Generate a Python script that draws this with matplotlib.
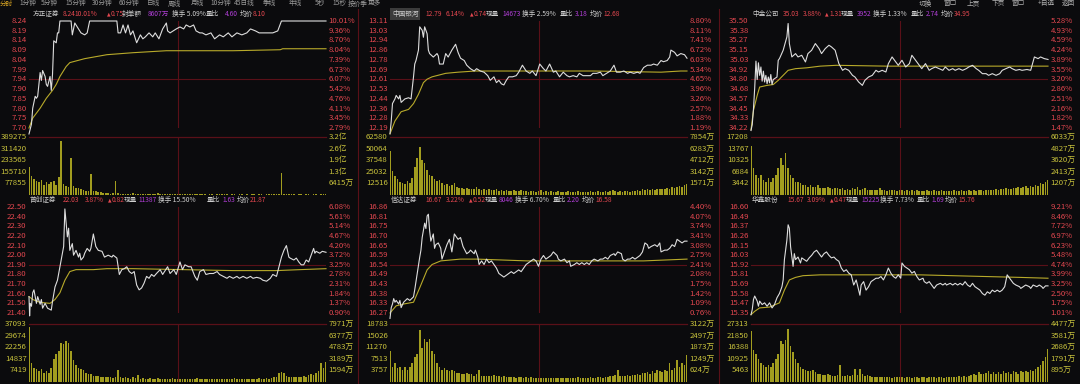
import numpy as np
import matplotlib
matplotlib.use('Agg')
import matplotlib.pyplot as plt
from matplotlib.lines import Line2D
from matplotlib.transforms import blended_transform_factory as blend

plt.rcParams['font.family'] = ['Noto Sans CJK SC', 'DejaVu Sans']

# ---------------- data ----------------
# 方正证券
fz_t = [0,2,3,5,6,7,9,10,11,13,14,15,17,18,19,20,22,23,24,25,34,35,37,40,42,45,47,49,71,72,
        74,76,78,80,82,84,87,90,92,94,97,100,102,105,108,111,112,114,119,122,125,127,130,133,135,
        138,140,143,147,150,154,157,161,164,168,172,176,179,183,186,189,193,197,201,204,240]
fz_p = [7.67,7.72,7.80,7.86,7.85,7.86,7.98,7.94,7.99,7.96,7.92,7.91,7.96,7.89,7.97,8.14,8.13,8.18,8.18,8.24,
        8.24,8.17,8.23,8.20,8.18,8.17,8.18,8.24,8.24,8.18,8.18,8.22,8.18,8.22,8.17,8.19,8.13,8.17,8.15,8.16,
        8.18,8.16,8.18,8.15,8.20,8.23,8.19,8.18,8.20,8.21,8.20,8.22,8.21,8.22,8.19,8.18,8.18,8.17,8.18,8.15,
        8.17,8.16,8.18,8.16,8.18,8.17,8.18,8.20,8.19,8.18,8.18,8.18,8.18,8.19,8.24,8.24]
fz_avg_t = [0,3,9,14,19,22,25,27,30,33,45,63,84,111,165,203,205,240]
fz_avg = [7.70,7.75,7.80,7.85,7.89,7.92,7.96,7.98,8.01,8.03,8.05,8.07,8.08,8.09,8.09,8.095,8.10,8.10]
fz_vol = [188,130,110,95,85,100,70,90,75,85, 95,70,120,360,75,60,55,245,60,50,
          45,40,35,30,30,142,28,25,20,18, 15,12,12,10,12,96,14,10,9,8,
          8,9,15,8,7,7,6,6,7,6, 5,6,12,5,5,6,5,4,5,5,
          4,10,4,5,4,4,5,4,4,5, 4,4,3,4,4,3,4,4,5,4,
          4,3,4,4,3,4,4,3,4,3, 4,4,3,4,4,3,4,4,5,4,
          5,8,147,10,6,5,4,4,3,4, 4,3,4,4,3,4,4,3,4,4, 5]
fz_yl = ['8.24','8.19','8.14','8.09','8.04','7.99','7.94','7.90','7.85','7.80','7.75','7.70']
fz_pct = ['10.01%','9.36%','8.70%','8.04%','7.39%','6.73%','6.07%','5.42%','4.76%','4.11%','3.45%','2.79%']
fz_vl = ['389275','311420','233565','155710','77855']
fz_vr = ['3.2亿','2.6亿','1.9亿','1.3亿','6415万']
fz_head = ['方正证券','8.24','10.01%','▲0.75','封单额','8607万','换手 5.09%','量比','4.60','均价','8.10']

# 中国银河
yh_t = [0,1,2,4,5,7,8,9,12,15,17,19,20,21,23,24,26,27,28,30,31,32,35,38,39,40,43,45,47,50,
        53,55,57,60,62,65,68,70,73,76,79,81,84,86,88,90,92,94,96,99,102,104,107,110,113,115,118,121,124,126,
        129,132,134,137,140,143,145,148,151,153,156,159,162,164,167,170,172,175,178,181,183,186,189,192,194,197,
        200,202,205,208,211,213,216,219,221,224,226,227,230,232,235,238,240]
yh_p = [12.14,12.25,12.40,12.44,12.47,12.44,12.47,12.41,12.44,12.45,12.44,12.63,12.74,12.77,12.86,13.06,13.03,12.97,13.06,13.00,
        12.86,12.83,12.80,12.83,12.81,12.74,12.74,12.83,12.80,12.86,12.91,12.84,12.79,12.77,12.73,12.70,12.68,12.70,12.68,12.67,
        12.64,12.60,12.63,12.58,12.60,12.57,12.56,12.60,12.63,12.63,12.64,12.67,12.73,12.68,12.66,12.68,12.64,12.74,12.70,12.68,
        12.74,12.67,12.68,12.63,12.67,12.64,12.63,12.64,12.63,12.66,12.64,12.64,12.64,12.66,12.66,12.67,12.64,12.66,12.68,12.73,
        12.67,12.67,12.68,12.66,12.67,12.66,12.67,12.66,12.71,12.73,12.73,12.74,12.73,12.77,12.76,12.77,12.80,12.86,12.84,12.81,
        12.83,12.82,12.79]
yh_avg_t = [0,4,9,15,19,23,27,30,34,45,55,69,110,164,219,235,240]
yh_avg = [12.14,12.25,12.33,12.35,12.40,12.48,12.58,12.61,12.63,12.66,12.67,12.68,12.68,12.68,12.67,12.68,12.68]
yh_vol = [48,26,20,17,14,13,12,15,13,18, 30,40,52,38,34,27,22,20,17,15,
          16,13,11,12,10,11,13,9,8,8, 7,8,6,7,6,9,6,5,6,5,
          6,5,5,6,4,5,4,5,4,4, 5,4,4,5,4,4,3,4,4,3,
          4,5,3,4,3,4,3,3,4,3, 3,3,4,3,3,3,4,3,3,3,
          3,4,3,3,4,3,3,4,3,4, 5,4,3,4,3,4,4,3,4,4,
          5,4,6,5,6,5,6,5,7,6, 7,6,8,7,9,8,9,10,9,11, 12]
yh_yl = ['13.11','13.03','12.94','12.86','12.78','12.69','12.61','12.53','12.44','12.36','12.28','12.19']
yh_pct = ['8.80%','8.11%','7.41%','6.72%','6.03%','5.34%','4.65%','3.96%','3.26%','2.57%','1.88%','1.19%']
yh_vl = ['62580','50064','37548','25032','12516']
yh_vr = ['7854万','6283万','4712万','3142万','1571万']
yh_head = ['中国银河','12.79','6.14%','▲0.74','现量','14673','换手 2.59%','量比','3.18','均价','12.68']

# 中金公司
zj_t = [0,1,2,3,4,5,6,7,8,9,10,11,12,13,14,15,16,17,18,21,22,23,26,29,30,31,33,36,38,
        41,44,46,49,52,55,57,60,63,65,68,71,74,76,79,82,84,87,90,92,95,98,101,103,106,109,111,114,117,119,
        122,125,128,130,133,136,138,141,144,146,149,152,155,157,160,163,165,168,171,174,176,179,182,184,187,190,
        192,195,198,201,203,206,209,211,214,217,219,223,226,229,232,234,237,240]
zj_p = [34.19,34.26,34.45,34.70,35.02,34.80,35.00,34.85,34.95,34.78,34.90,34.77,34.85,34.75,34.83,34.76,34.86,34.74,34.80,
        34.83,35.03,35.05,35.15,35.31,35.47,35.23,35.07,35.11,35.07,
        35.09,35.01,35.11,35.15,35.23,35.17,35.11,35.17,35.21,35.19,
        35.15,34.99,34.91,34.93,34.91,34.85,34.83,34.77,34.73,34.79,
        34.83,34.85,34.91,34.89,34.91,34.89,34.99,35.07,35.01,34.97,
        35.03,34.95,34.99,35.09,35.03,34.97,34.93,34.99,34.91,34.93,
        34.95,34.93,34.91,34.95,34.91,34.93,34.91,34.93,34.91,34.93,
        34.95,34.97,34.93,34.91,34.87,34.87,34.85,34.87,34.85,34.87,
        34.91,34.93,34.95,34.93,34.91,34.92,34.91,34.92,34.91,35.07,
        35.05,35.07,35.05,35.04]
zj_avg_t = [0,2,5,7,13,18,22,26,30,36,45,56,69,110,164,240]
zj_avg = [34.20,34.43,34.61,34.71,34.73,34.74,34.79,34.85,34.91,34.93,34.94,34.96,34.97,34.96,34.96,34.96]
zj_vol = [14.5,8,6,5,6,4.5,4,5,4,5, 6,8,11,9,12.5,8,6,5,4,4,
          3.5,3,3,2.5,3,2.5,2.5,3,2,2, 2,2.5,2,1.8,2,2.2,1.8,2,1.5,1.8,
          1.5,2,1.8,2.5,1.5,1.8,2,1.5,1.6,1.5, 1.4,1.6,2,1.4,1.5,1.3,1.6,1.4,1.5,1.3,
          1.5,1.4,1.3,1.5,1.2,1.4,1.3,1.5,1.2,1.3, 1.2,1.4,1.3,1.2,1.5,1.3,1.2,1.4,1.3,1.2,
          1.3,1.2,1.4,1.2,1.3,1.5,1.2,1.3,1.4,1.2, 1.5,1.3,1.4,1.6,1.3,1.5,1.4,1.6,1.5,1.7,
          1.6,1.8,1.7,2,1.8,1.9,2.2,2,2.4,2.1, 2.3,2.6,2.2,2.8,2.5,3,2.7,3.5,3.2,4, 4.5]
zj_yl = ['35.50','35.38','35.27','35.15','35.03','34.92','34.80','34.68','34.57','34.45','34.33','34.22']
zj_pct = ['5.28%','4.93%','4.59%','4.24%','3.89%','3.55%','3.20%','2.86%','2.51%','2.16%','1.82%','1.47%']
zj_vl = ['17208','13767','10325','6884','3442']
zj_vr = ['6033万','4827万','3620万','2413万','1207万']
zj_head = ['中金公司','35.03','3.88%','▲1.31','现量','3952','换手 1.33%','量比','2.74','均价','34.95']

# 首创证券
sc_t = [0,0.5,1,2,3,4,6,7,9,10,11,13,15,18,19,21,23,25,27,28,29,31,32,33,35,36,38,40,41,42,
        44,45,47,49,50,52,54,56,59,61,64,67,68,71,73,75,77,79,81,83,85,87,89,91,93,95,97,99,101,103,
        106,108,111,112,114,117,119,122,124,126,129,131,134,136,138,141,143,146,149,152,154,157,160,162,165,168,
        170,173,176,179,181,184,187,189,192,195,197,200,202,204,206,208,210,211,214,216,218,220,222,224,
        226,228,230,231,232,235,237,240]
sc_p = [21.57,21.37,21.50,21.47,21.61,21.64,21.50,21.57,21.49,21.54,21.45,21.50,21.45,21.43,21.52,21.67,21.74,21.88,22.02,22.09,
        22.48,22.19,22.28,22.05,22.12,22.00,22.05,21.98,22.02,21.95,21.98,22.02,22.07,22.04,22.07,22.22,22.09,22.05,22.04,21.98,
        22.00,21.98,22.00,21.97,21.80,21.85,21.86,21.88,21.83,21.81,21.83,21.69,21.64,21.66,21.71,21.78,21.76,21.80,21.78,21.81,
        21.85,21.80,21.86,21.88,21.81,21.85,21.80,21.93,21.85,21.90,21.88,21.88,21.78,21.74,21.83,21.85,21.80,21.81,21.81,21.83,
        21.80,21.78,21.76,21.78,21.76,21.78,21.76,21.78,21.76,21.78,21.76,21.77,21.76,21.74,21.73,21.76,21.80,21.78,21.88,21.98,
        22.05,22.10,21.98,21.97,21.95,21.97,21.93,21.90,21.90,21.95,21.93,22.00,22.07,22.02,22.04,22.02,22.04,22.03]
sc_avg_t = [0,3,9,17,21,25,29,33,38,52,63,84,125,165,200,219,240]
sc_avg = [21.57,21.54,21.51,21.50,21.54,21.61,21.74,21.83,21.85,21.85,21.86,21.86,21.85,21.84,21.84,21.85,21.86]
sc_vol = [35,12,9,8,7,8,6,7,6,9, 15,18,20,25,24,26,25,20,14,11,
          9,8,7.5,6,5,5,4,4,4,3, 3,3.5,3,3,2.5,3,7.5,3,2.5,3,
          2.5,2,3,2.5,4.5,2,2.5,2,2,2.5, 2,2,2.5,2,2,1.8,2,2,2.5,2,
          2,1.8,2,1.8,2,2,1.8,2,2.5,2, 1.8,2,1.8,2,2,1.8,2,2.2,2,1.8,
          2,2,1.8,2.5,2,1.8,2,2.2,2,1.8, 2,2.2,2,2.5,2.2,2,2.4,2.2,2.6,3,
          3.5,6,6.5,5.5,4,3,3.5,3,3.5,3, 3.5,4,3.5,4.5,5,4.5,6,7,12,9, 13]
sc_yl = ['22.50','22.40','22.30','22.20','22.10','22.00','21.90','21.80','21.70','21.60','21.50','21.40']
sc_pct = ['6.08%','5.61%','5.14%','4.67%','4.20%','3.72%','3.25%','2.78%','2.31%','1.84%','1.37%','0.90%']
sc_vl = ['37093','29674','22256','14837','7419']
sc_vr = ['7971万','6377万','4783万','3189万','1594万']
sc_head = ['首创证券','22.03','3.87%','▲0.82','现量','11387','换手 15.50%','量比','1.63','均价','21.87']

# 信达证券
xd_t = [0,1,2,3,4,5,7,8,9,11,14,16,19,20,22,24,25,26,28,29,30,31,32,33,35,36,37,39,41,42,
        43,45,46,48,50,52,54,55,57,59,62,64,65,68,69,71,72,74,76,78,80,82,84,86,88,90,92,94,96,98,
        100,102,104,106,108,110,112,114,116,118,120,122,124,126,128,130,132,135,136,138,
        141,143,145,146,149,151,153,155,157,159,161,163,165,168,170,172,174,176,178,181,
        182,184,187,188,190,192,194,196,198,200,202,204,206,208,209,211,214,216,218,219,
        222,224,226,228,230,232,234,236,238,240]
xd_p = [16.24,16.30,16.32,16.35,16.33,16.34,16.32,16.34,16.30,16.33,16.35,16.34,16.36,16.40,16.49,16.58,16.62,16.69,16.77,16.74,
        16.81,16.82,16.73,16.67,16.71,16.63,16.65,16.66,16.63,16.57,16.59,16.63,16.65,16.68,16.61,16.71,16.69,16.68,16.69,16.64,
        16.60,16.61,16.62,16.60,16.62,16.58,16.54,16.56,16.54,16.57,16.55,16.56,16.54,16.52,16.49,16.48,16.47,16.48,16.49,16.50,
        16.49,16.50,16.51,16.50,16.52,16.54,16.55,16.56,16.57,16.56,16.53,16.57,16.59,16.57,16.58,16.59,16.61,16.59,16.57,16.56,
        16.57,16.55,16.56,16.53,16.54,16.55,16.54,16.55,16.54,16.55,16.54,16.56,16.57,16.56,16.57,16.57,16.58,16.57,16.59,16.60,
        16.59,16.61,16.60,16.57,16.56,16.57,16.57,16.58,16.57,16.58,16.59,16.61,16.66,16.65,16.63,16.64,16.65,16.64,16.66,16.61,
        16.62,16.62,16.63,16.65,16.64,16.68,16.67,16.66,16.67,16.67]
xd_avg_t = [0,5,11,19,24,30,34,41,57,70,111,165,205,240]
xd_avg = [16.27,16.31,16.32,16.33,16.41,16.51,16.54,16.56,16.57,16.57,16.56,16.56,16.56,16.57]
xd_vol = [10.2,5,6,4.5,5,4,5,4,5,6, 8,9,17,11,14,13,14,10,9,6,
          5,4,4.5,4,3.5,4,3.5,3,3,2.5, 2.5,3,2.5,2.5,2,2.5,4,2,2,1.8,
          2,1.8,2.2,1.8,2,1.5,1.8,1.5,1.6,1.5, 1.5,1.4,1.6,1.5,1.4,1.6,1.3,1.5,1.4,1.3,
          1.2,1.4,1.3,1.2,1.4,1.3,1.2,1.3,1.4,1.2, 1.3,1.2,1.4,1.3,1.2,1.3,1.5,1.3,1.2,1.4,
          1.3,1.5,1.4,1.3,1.6,1.5,1.4,1.6,1.5,1.8, 2,2.2,4,2,1.8,2,2.2,2,2.4,2.2,
          2.5,2.2,3,2.8,3.2,2.5,3.5,3,4,3.5, 3.2,4,3.5,6,4,4.5,7,5,6,5.5, 8.6]
xd_yl = ['16.86','16.81','16.75','16.70','16.65','16.59','16.54','16.49','16.43','16.38','16.33','16.27']
xd_pct = ['4.40%','4.07%','3.74%','3.41%','3.08%','2.75%','2.41%','2.08%','1.75%','1.42%','1.09%','0.76%']
xd_vl = ['18783','15026','11270','7513','3757']
xd_vr = ['3122万','2497万','1873万','1249万','624万']
xd_head = ['信达证券','16.67','3.22%','▲0.52','现量','8046','换手 6.70%','量比','2.20','均价','16.58']

# 华鑫股份
hx_t = [0,1,2,3,5,6,7,9,11,13,15,17,19,21,23,25,26,27,29,30,31,32,34,35,36,38,40,41,43,45,
        47,49,51,53,55,57,59,61,63,65,67,69,71,73,75,77,79,81,83,85,87,88,89,91,93,95,97,99,101,103,
        105,107,109,111,113,115,117,119,121,122,124,126,128,130,132,134,136,139,140,142,
        144,147,148,150,153,155,157,158,161,163,165,167,169,171,173,175,177,179,181,183,
        185,187,189,191,193,195,197,199,201,203,205,207,208,210,212,214,217,218,220,222,
        225,226,228,231,233,235,236,238,240]
hx_p = [15.33,15.39,15.51,15.55,15.49,15.43,15.49,15.45,15.47,15.43,15.47,15.41,15.45,15.53,15.58,15.66,15.74,15.98,16.21,16.39,
        16.35,16.13,15.90,16.05,15.98,16.01,15.94,16.00,15.98,15.96,16.00,16.03,16.07,16.09,16.05,16.01,16.05,16.07,16.03,16.00,
        16.01,15.98,15.96,15.88,15.84,15.86,15.82,15.80,15.68,15.74,15.62,15.56,15.68,15.72,15.62,15.66,15.72,15.74,15.76,15.76,
        15.78,15.74,15.80,15.88,15.82,15.78,15.76,15.80,15.76,15.94,15.90,15.88,15.86,15.82,15.84,15.78,15.74,15.76,15.72,15.70,
        15.72,15.66,15.64,15.68,15.70,15.68,15.70,15.68,15.70,15.68,15.70,15.68,15.70,15.68,15.72,15.68,15.66,15.70,15.66,15.64,
        15.62,15.58,15.56,15.60,15.58,15.62,15.60,15.62,15.60,15.62,15.66,15.80,15.78,15.74,15.70,15.68,15.66,15.64,15.66,15.68,
        15.66,15.64,15.68,15.66,15.68,15.66,15.64,15.67,15.67]
hx_avg_t = [0,3,7,15,23,27,31,36,42,56,83,109,136,163,190,217,240]
hx_avg = [15.33,15.37,15.41,15.42,15.47,15.62,15.74,15.77,15.79,15.80,15.80,15.80,15.80,15.79,15.78,15.77,15.76]
hx_vol = [24,15,13,11,9,8,7,8,7,9, 11,13,19.5,18,20,25,17,14,11,9,
          7,6,5.5,5,5,5.5,4.5,4,4,3.5, 3.5,4,3.5,3,3,3.5,8,3,3,3.5,
          3,3.5,6,3.5,6,4,3,3.5,3,2.5, 2.5,2.3,2.5,2.2,2.3,2.5,2.2,2,2.3,2.2,
          2.5,2.2,2,2.3,2.2,2,2.4,2.2,2,2.3, 2.2,2,2.3,2.2,2.5,2,2.2,2.3,2,2.2,
          2.3,2.2,2.5,2.3,2.6,2.4,2.8,2.5,3,3.5, 4,3.5,4.5,4,3.8,4.2,5,4,4.5,4,
          4.5,4,5,4.2,4.5,4,5,4.5,4,5, 4.5,5,4.5,5.5,5,6,7,8,10,12, 15.6]
hx_yl = ['16.60','16.49','16.37','16.26','16.15','16.03','15.92','15.81','15.69','15.58','15.47','15.35']
hx_pct = ['9.21%','8.46%','7.72%','6.97%','6.23%','5.48%','4.74%','3.99%','3.25%','2.50%','1.75%','1.01%']
hx_vl = ['27313','21850','16388','10925','5463']
hx_vr = ['4477万','3581万','2686万','1791万','895万']
hx_head = ['华鑫股份','15.67','3.09%','▲0.47','现量','15225','换手 7.73%','量比','1.69','均价','15.76']

menu_left = ['分时','1分钟','5分钟','15分钟','30分钟','60分钟','日线','周线','月线','10分钟','45日线','季线','年线','5秒','15秒','按价季','更多']
menu_right = ['切换','窗口','上页','下页','窗口','+自选','返回']

panels = [
    dict(t=fz_t, p=fz_p, at=fz_avg_t, a=fz_avg, v=fz_vol, yl=fz_yl, pct=fz_pct, vl=fz_vl, vr=fz_vr, head=fz_head),
    dict(t=yh_t, p=yh_p, at=yh_avg_t, a=yh_avg, v=yh_vol, yl=yh_yl, pct=yh_pct, vl=yh_vl, vr=yh_vr, head=yh_head),
    dict(t=zj_t, p=zj_p, at=zj_avg_t, a=zj_avg, v=zj_vol, yl=zj_yl, pct=zj_pct, vl=zj_vl, vr=zj_vr, head=zj_head),
    dict(t=sc_t, p=sc_p, at=sc_avg_t, a=sc_avg, v=sc_vol, yl=sc_yl, pct=sc_pct, vl=sc_vl, vr=sc_vr, head=sc_head),
    dict(t=xd_t, p=xd_p, at=xd_avg_t, a=xd_avg, v=xd_vol, yl=xd_yl, pct=xd_pct, vl=xd_vl, vr=xd_vr, head=xd_head),
    dict(t=hx_t, p=hx_p, at=hx_avg_t, a=hx_avg, v=hx_vol, yl=hx_yl, pct=hx_pct, vl=hx_vl, vr=hx_vr, head=hx_head),
]

# ---------------- layout / style ----------------
W, H = 1080, 384
BG = '#0b0b0d'
GRID = '#5a1018'
RED = '#e2474f'
YEL = '#c8c23c'
GRAY = '#cfcfcf'
PURPLE = '#b03ed6'
LINE = '#dedede'
AVG = '#b8aa2a'
BAR = '#a29d1f'

COL_X = [29, 390, 751]
PW = 297
PRICE_Y = [(21, 128), (207, 313)]
VOL_Y = [(137, 195), (324, 382)]
HEAD_Y = [14, 200]
HEAD_DX = [
    [4, 34, 45, 78, 93, 119, 143, 177, 196, 211, 224],
    [2, 35, 56, 80, 96, 112, 132, 170, 185, 200, 213],
    [1, 32, 52, 74, 90, 106, 122, 160, 175, 190, 203],
    [1, 34, 56, 79, 95, 109, 129, 178, 193, 208, 221],
    [1, 35, 56, 79, 95, 109, 125, 163, 177, 192, 205],
    [1, 36, 56, 79, 95, 110, 129, 166, 180, 194, 207],
]
HEAD_C = [GRAY, RED, RED, RED, GRAY, PURPLE, GRAY, GRAY, PURPLE, GRAY, RED]
FS = 5.6
HFS = 4.8

fig = plt.figure(figsize=(W / 100, H / 100), dpi=100, facecolor=BG)


def add_ax(x0, x1, y0, y1):
    ax = fig.add_axes([x0 / W, 1 - y1 / H, (x1 - x0) / W, (y1 - y0) / H])
    ax.set_facecolor('none')
    ax.set_xticks([])
    ax.set_yticks([])
    for s in ax.spines.values():
        s.set_visible(False)
    return ax


def fig_line(x0, y0, x1, y1, **kw):
    fig.add_artist(Line2D([x0 / W, x1 / W], [1 - y0 / H, 1 - y1 / H], transform=fig.transFigure, **kw))


t_vol = np.arange(0, 241, 2)

for i, p in enumerate(panels):
    col, row = i % 3, i // 3
    x0 = COL_X[col]
    x1 = x0 + PW
    py0, py1 = PRICE_Y[row]
    vy0, vy1 = VOL_Y[row]

    # price area
    ax = add_ax(x0, x1, py0, py1)
    top, bot = float(p['yl'][0]), float(p['yl'][-1])
    ax.set_xlim(0, 240)
    ax.set_ylim(bot, top)
    levels = np.linspace(top, bot, len(p['yl']))
    ax.axhline(levels[6], color=GRID, lw=0.8)
    ax.axvline(120, color=GRID, lw=0.8)
    ax.plot(p['at'], p['a'], color=AVG, lw=0.8, clip_on=False)
    ax.plot(p['t'], p['p'], color=LINE, lw=0.8, clip_on=False)
    tr_l = blend(ax.transAxes, ax.transData)
    for lab, pct, lv in zip(p['yl'], p['pct'], levels):
        ax.text(-0.008, lv, lab, transform=tr_l, ha='right', va='center', fontsize=FS, color=RED)
        ax.text(1.008, lv, pct, transform=tr_l, ha='left', va='center', fontsize=FS, color=RED)

    # volume area
    vx = add_ax(x0, x1, vy0, vy1)
    vmax = float(p['vl'][0])
    vx.set_xlim(0, 240)
    vx.set_ylim(0, vmax)
    vx.bar(t_vol, np.array(p['v']) * 1000, width=1.3, color=BAR, linewidth=0)
    vx.axhline(vmax, color=GRID, lw=0.9, clip_on=False)
    vx.axvline(120, color=GRID, lw=0.8)
    tr_v = blend(vx.transAxes, vx.transData)
    for k, (l, r) in enumerate(zip(p['vl'], p['vr'])):
        lv = vmax * (len(p['vl']) - k) / len(p['vl'])
        vx.text(-0.008, lv, l, transform=tr_v, ha='right', va='center', fontsize=FS, color=YEL)
        vx.text(1.008, lv, r, transform=tr_v, ha='left', va='center', fontsize=FS, color=YEL)

    # header line
    hy = 1 - HEAD_Y[row] / H
    for j, (txt, dx) in enumerate(zip(p['head'], HEAD_DX[i])):
        hx0 = (x0 + dx) / W
        if txt.startswith('▲'):
            # small triangle, then the change value
            fig.text(hx0, hy, '▲', ha='left', va='center', fontsize=HFS * 0.7,
                     family='DejaVu Sans', color=HEAD_C[j])
            fig.text(hx0 + 4 / W, hy, txt[1:], ha='left', va='center', fontsize=HFS, color=HEAD_C[j])
            continue
        kw = {}
        if i == 1 and j == 0:
            kw['bbox'] = dict(boxstyle='square,pad=0.25', fc='#3b3b3b', ec='none')
        fig.text(hx0, hy, txt, ha='left', va='center', fontsize=HFS, color=HEAD_C[j], **kw)

# frame lines
for xs in [358, 719]:
    fig_line(xs, 9, xs, H, color=GRID, lw=0.8)

# top menu
menu_x = [0, 19, 41, 65, 92, 119, 147, 168, 191, 210, 234, 263, 289, 315, 332, 348, 368]
for j, (txt, mx) in enumerate(zip(menu_left, menu_x)):
    fig.text(mx / W, 1 - 3.5 / H, txt, ha='left', va='center', fontsize=HFS,
             color='#d9a521' if j == 0 else '#9a9a9a')
for txt, mx in zip(menu_right, [919, 943, 967, 992, 1012, 1038, 1062]):
    fig.text(mx / W, 1 - 3.5 / H, txt, ha='left', va='center', fontsize=HFS, color='#b0b0b0')

fig.savefig('out.png', dpi=100, facecolor=BG)
